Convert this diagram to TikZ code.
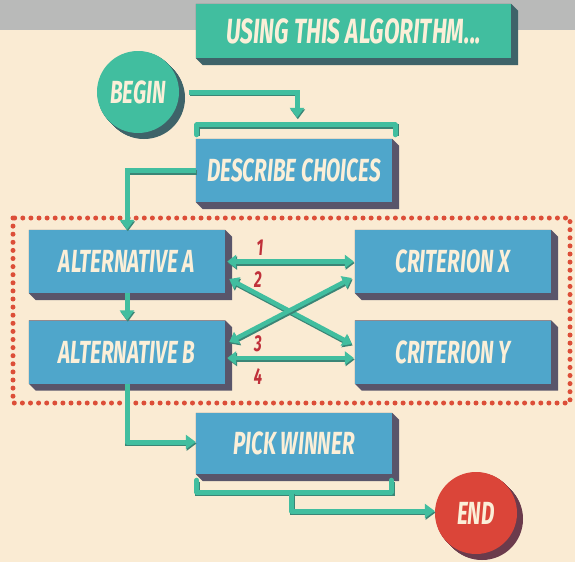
\documentclass[tikz,border=0pt]{standalone}
\usepackage{fontspec}
\usetikzlibrary{arrows.meta}
\newfontfamily\hf[FakeStretch=0.65]{Fira Sans}
\definecolor{cream}{HTML}{FAEBD3}
\definecolor{band}{HTML}{B9BAB9}
\definecolor{teal}{HTML}{41BE9F}
\definecolor{tealshadow}{HTML}{3E6369}
\definecolor{tealedge}{HTML}{3A8576}
\definecolor{boxblue}{HTML}{4FA6CB}
\definecolor{boxshadow}{HTML}{59556A}
\definecolor{endred}{HTML}{DB4539}
\definecolor{endshadow}{HTML}{6B3B4C}
\definecolor{dotred}{HTML}{DC4E38}
\definecolor{numred}{HTML}{C0303A}
\definecolor{txt}{HTML}{FBEFD8}
\pgfdeclarelayer{back}
\pgfdeclarelayer{bg}
\pgfsetlayers{back,bg,main}
\tikzset{
  lbl/.style={text=txt, font=\hf\bfseries\itshape\fontsize{32}{32}\selectfont},
  bluebox/.style={lbl, rectangle, fill=boxblue, minimum width=196pt, minimum height=63pt, inner sep=0pt},
  titlebox/.style={lbl, rectangle, fill=teal, minimum width=315pt, minimum height=54pt, inner sep=0pt, font=\hf\bfseries\itshape\fontsize{35}{35}\selectfont},
  roundnode/.style={lbl, circle, minimum size=82pt, inner sep=0pt},
  conn/.style={draw=teal, line width=5pt, preaction={draw=tealedge, line width=5pt, transform canvas={shift={(0.8pt,-1.5pt)}}}},
  tip/.style={-{Triangle[width=14pt,length=10pt]}},
  dtip/.style={{Triangle[width=13pt,length=9pt]}-{Triangle[width=13pt,length=9pt]}},
  num/.style={text=numred, font=\hf\bfseries\itshape\fontsize{23}{23}\selectfont, inner sep=0pt},
}
\newcommand\extrude[3]{%
  \fill[#2] (#1.north west) -- (#1.north east) -- ([shift={(#3,#3)}]#1.north east) -- ([shift={(#3,#3)}]#1.south east) -- ([shift={(#3,#3)}]#1.south west) -- (#1.south west) -- cycle;}
\begin{document}
\begin{tikzpicture}[x={(1pt,0)}, y={(0,-1pt)}]
\useasboundingbox (0,0) rectangle (575,562);
\begin{pgfonlayer}{back}
  \fill[cream] (0,0) rectangle (575,562);
  \fill[band] (0,0) rectangle (575,30);
  \draw[dotred, line width=5pt, line cap=round, dash pattern=on 0pt off 8.1pt] (13,218) rectangle (570,403);
\end{pgfonlayer}

\node[titlebox] (title) at (353.5,31) {USING THIS ALGORITHM...};
\node[roundnode, fill=teal] (begin) at (138,92) {BEGIN};
\node[bluebox] (desc) at (294,170.5) {DESCRIBE CHOICES};
\node[bluebox] (altA) at (127,261.5) {ALTERNATIVE A};
\node[bluebox] (critX) at (453,261.5) {CRITERION X};
\node[bluebox] (altB) at (127,352) {ALTERNATIVE B};
\node[bluebox] (critY) at (453,352) {CRITERION Y};
\node[bluebox, minimum height=61pt] (pick) at (294,443.5) {PICK WINNER};
\node[roundnode, fill=endred] (end) at (476,513) {END};

\begin{pgfonlayer}{bg}
  \extrude{title}{tealshadow}{7}
  \extrude{desc}{boxshadow}{7}
  \extrude{altA}{boxshadow}{7}
  \extrude{critX}{boxshadow}{7}
  \extrude{altB}{boxshadow}{7}
  \extrude{critY}{boxshadow}{7}
  \extrude{pick}{boxshadow}{7}
  \foreach \s in {0.5,1,...,6}{
    \fill[tealshadow] ([shift={(\s,\s)}]begin.center) circle (41pt);
    \fill[endshadow] ([shift={(\s,\s)}]end.center) circle (41pt);
  }
\end{pgfonlayer}

% begin -> bracket over describe
\coordinate (btop) at ([shift={(3,-21)}]desc.north);
\draw[conn, tip] ([xshift=10]begin.east) -| (btop);
\draw[conn, line cap=round, line join=round] ([shift={(1,-4)}]desc.north west) -- ([shift={(1,-14)}]desc.north west) -- ([shift={(3,-14)}]desc.north east) -- ([shift={(3,-4)}]desc.north east);

% describe -> alternative A
\draw[conn, tip] (desc.west) -| (altA.north);
% A -> B
\draw[conn, tip] (altA.south) -- (altB.north);
% B -> pick
\draw[conn, tip, line join=round] (altB.south) |- ([yshift=1.5]pick.west);

% relations
\draw[conn, dtip, line width=4.5pt] ([xshift=2]altA.east) -- ([xshift=-1]critX.west);
\draw[conn, dtip, line width=4.5pt] ([shift={(4,17.5)}]altA.east) -- ([shift={(-3,-8)}]critY.west);
\draw[conn, dtip, line width=4.5pt] ([shift={(4,-10)}]altB.east) -- ([shift={(-3,16.5)}]critX.west);
\draw[conn, dtip, line width=4.5pt] ([shift={(2,6)}]altB.east) -- ([shift={(-1,6)}]critY.west);
\node[num] (n1) at (260,248) {1};
\node[num] (n2) at (258,280) {2};
\node[num] (n3) at (258,344) {3};
\node[num] (n4) at (258,377) {4};

% bracket under pick winner -> end
\draw[conn, line cap=round, line join=round] ([shift={(1,6)}]pick.south west) -- ([shift={(1,18)}]pick.south west) -- ([shift={(-1,18)}]pick.south east) -- ([shift={(-1,6)}]pick.south east);
\draw[conn, tip, line join=round] ([shift={(-2.5,18)}]pick.south) |- ([yshift=2]end.west);
\end{tikzpicture}
\end{document}
